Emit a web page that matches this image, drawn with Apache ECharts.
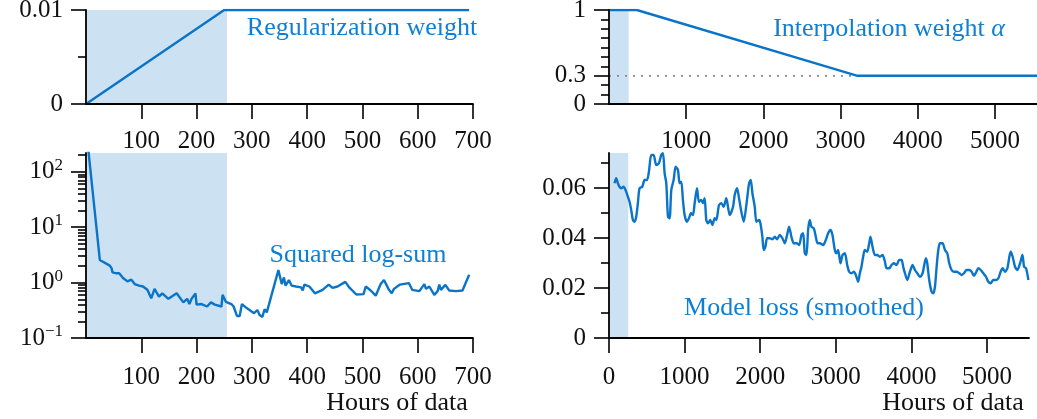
<!DOCTYPE html>
<html><head><meta charset="utf-8">
<script src="https://cdn.jsdelivr.net/npm/echarts@6/dist/echarts.min.js"></script>
<style>html,body{margin:0;padding:0;background:#fff}#c{width:1037px;height:419px}</style>
</head><body><div id="c"></div>
<script>
// ---------------- data ----------------
const warmupEnd = 255;
const regHours = [0, 250, 693];
const regWeight = [0, 0.01, 0.01];
const alphaHours = [0, 360, 3220, 5544];
const alphaWeight = [1, 1, 0.3, 0.3];
const alphaFloor = 0.3;

const logSumHours = [
  1, 25, 43, 46, 48, 50, 55, 60, 67, 75,
  82, 88, 96, 103, 111, 118, 124, 132, 138, 149,
  164, 176, 183, 187, 191, 198, 200, 209, 219, 226,
  233, 236, 245, 247, 253, 263, 267, 273, 278, 282,
  290, 304, 310, 314, 319, 323, 327, 348, 354, 358,
  361, 367, 372, 380, 389, 392, 395, 404, 414, 428,
  439, 446, 455, 469, 477, 489, 502, 506, 515, 524,
  533, 539, 548, 553, 557, 568, 584, 590, 603, 612,
  615, 621, 630, 636, 639, 642, 650, 657, 669, 681,
  693];
const logSumValues = [
  500, 2.56, 2.02, 1.84, 1.53, 1.64, 1.47, 1.47, 1.21, 1.05,
  1.13, 0.94, 0.88, 0.85, 0.74, 0.52, 0.77, 0.56, 0.64, 0.51,
  0.64, 0.44, 0.51, 0.41, 0.51, 0.64, 0.40, 0.41, 0.37, 0.44,
  0.40, 0.37, 0.37, 0.60, 0.45, 0.41, 0.37, 0.25, 0.25, 0.41,
  0.35, 0.28, 0.32, 0.26, 0.24, 0.33, 0.29, 1.68, 0.94, 1.24,
  0.88, 1.11, 0.88, 0.85, 0.82, 0.72, 0.92, 0.85, 0.64, 0.74,
  0.92, 0.80, 0.85, 1.03, 0.80, 0.61, 0.62, 0.85, 0.72, 0.58,
  0.94, 1.11, 0.74, 0.64, 0.77, 0.92, 0.98, 0.74, 0.70, 0.94,
  0.77, 0.85, 0.60, 0.70, 0.92, 0.74, 0.91, 0.72, 0.70, 0.72,
  1.38];

const lossHours = [
  73,95,117,139,161,192,219,250,272,294,
  316,338,360,382,404,440,471,502,528,559,
  590,625,660,691,714,736,758,780,802,824,
  855,881,912,934,956,978,1000,1031,1058,1084,
  1111,1133,1164,1190,1221,1243,1265,1287,1309,1340,
  1367,1398,1420,1455,1486,1517,1552,1574,1597,1641,
  1663,1694,1720,1751,1782,1817,1853,1875,1897,1928,
  1950,1985,2003,2029,2047,2069,2091,2126,2162,2193,
  2223,2259,2294,2325,2356,2382,2413,2444,2480,2515,
  2546,2568,2590,2612,2634,2656,2678,2709,2736,2758,
  2789,2833,2868,2899,2930,2956,2987,3009,3031,3062,
  3089,3120,3151,3177,3208,3239,3265,3296,3318,3340,
  3362,3384,3415,3442,3459,3486,3517,3548,3583,3618,
  3650,3672,3707,3738,3769,3804,3839,3870,3892,3915,
  3946,3981,4016,4047,4078,4113,4148,4166,4192,4210,
  4236,4267,4290,4312,4334,4356,4378,4413,4444,4475,
  4501,4532,4563,4599,4634,4665,4696,4731,4766,4797,
  4828,4855,4886,4917,4952,4987,5018,5049,5084,5120,
  5151,5181,5208,5239,5270,5296,5314,5340,5371,5402,
  5438,5469,5491,5517,5548];
const lossValues = [
  .0619,.0639,.0619,.0605,.0599,.0605,.0592,.0565,.0545,.0512,
  .0472,.0465,.0485,.0539,.0599,.0605,.0632,.0632,.0665,.0732,
  .0732,.0692,.0699,.0732,.0739,.0659,.0619,.0485,.0479,.0592,
  .0632,.0685,.0672,.0619,.0625,.0552,.0492,.0465,.0479,.0499,
  .0492,.0539,.0599,.0545,.0552,.0539,.0559,.0472,.0459,.0472,
  .0452,.0479,.0472,.0532,.0539,.0525,.0559,.0525,.0492,.0525,
  .0572,.0599,.0559,.0505,.0465,.0532,.0619,.0632,.0579,.0525,
  .0465,.0472,.0459,.0405,.0352,.0365,.0399,.0399,.0395,.0405,
  .0395,.0412,.0399,.0379,.0412,.0445,.0405,.0379,.0379,.0372,
  .0412,.0419,.0339,.0332,.0432,.0472,.0445,.0439,.0405,.0379,
  .0379,.0372,.0392,.0419,.0432,.0412,.0352,.0339,.0352,.0299,
  .0332,.0339,.0292,.0265,.0259,.0265,.0252,.0225,.0259,.0285,
  .0325,.0352,.0345,.0379,.0405,.0365,.0332,.0332,.0325,.0332,
  .0305,.0279,.0279,.0292,.0299,.0292,.0312,.0312,.0285,.0259,
  .0232,.0265,.0292,.0272,.0259,.0245,.0259,.0285,.0319,.0299,
  .0232,.0185,.0179,.0205,.0285,.0352,.0379,.0379,.0352,.0339,
  .0299,.0272,.0265,.0265,.0259,.0252,.0259,.0272,.0272,.0265,
  .0249,.0262,.0279,.0272,.0259,.0245,.0225,.0219,.0232,.0232,
  .0239,.0265,.0279,.0265,.0279,.0325,.0345,.0325,.0285,.0272,
  .0299,.0332,.0285,.0279,.0232];

const leftXTicks = [100, 200, 300, 400, 500, 600, 700];
const rightXTicksTop = [1000, 2000, 3000, 4000, 5000];
const rightXTicksBottom = [0, 1000, 2000, 3000, 4000, 5000];
const regYTicks = [0, 0.01];
const regYMinor = [0.005];
const alphaYTicks = [0, 0.3, 1];
const alphaYMinor = [0.1, 0.2, 0.4, 0.5, 0.6, 0.7, 0.8, 0.9];
const logDecades = [-1, 0, 1, 2];
const logMinorMultipliers = [2, 3, 4, 5, 6, 7, 8, 9];
const lossYTicks = [0, 0.02, 0.04, 0.06];
const lossYMinor = [0.01, 0.03, 0.05, 0.07];

const labels = {
  reg: 'Regularization weight',
  alpha: 'Interpolation weight ',
  alphaSym: 'α',
  logsum: 'Squared log-sum',
  loss: 'Model loss (smoothed)',
  xname: 'Hours of data'
};

// ---------------- styling ----------------
const FONT = 'Liberation Serif';
const BLUE = '#0a74c9';
const TEXTBLUE = '#0d7fd4';
const SHADE = '#cce2f3';
const INK = '#111';

const logMax = Math.log10(218);
const logMinorTicks = [];
logDecades.forEach(d => logMinorMultipliers.forEach(m => {
  const v = d + Math.log10(m);
  if (v < logMax) logMinorTicks.push(v);
}));

const tickStyle = {color: '#000', width: 1.6};
function xAx(grid, min, max, ticks, margin) {
  return {
    type: 'value', gridIndex: grid, min: min, max: max, z: 5,
    axisLine: {show: true, onZero: false, lineStyle: {color: '#000', width: 1.8}},
    axisTick: {show: true, inside: false, length: 15, lineStyle: tickStyle, customValues: ticks},
    axisLabel: {show: true, customValues: ticks, margin: margin, fontSize: 25, fontFamily: FONT, color: INK,
      formatter: v => String(v)},
    splitLine: {show: false}
  };
}
function yAx(grid, min, max, ticks, fmt, rich) {
  return {
    type: 'value', gridIndex: grid, min: min, max: max, z: 5, position: 'left',
    axisLine: {show: true, onZero: false, lineStyle: {color: '#000', width: 1.8}},
    axisTick: {show: true, inside: false, length: 15, lineStyle: tickStyle, customValues: ticks},
    axisLabel: {show: true, customValues: ticks, margin: 23, fontSize: 25, fontFamily: FONT, color: INK,
      formatter: fmt || (v => String(v)), rich: rich},
    splitLine: {show: false}
  };
}
function yMinor(grid, min, max, ticks) {
  return {
    type: 'value', gridIndex: grid, min: min, max: max, z: 5, position: 'left',
    axisLine: {show: false, onZero: false},
    axisTick: {show: true, inside: false, length: 8, lineStyle: tickStyle, customValues: ticks},
    axisLabel: {show: false},
    splitLine: {show: false}
  };
}
const shadeArea = {silent: true, itemStyle: {color: SHADE}, data: [[{xAxis: 0}, {xAxis: warmupEnd}]]};
function lineSeries(xi, yi, data, width, extra) {
  return Object.assign({
    type: 'line', xAxisIndex: xi, yAxisIndex: yi, data: data, showSymbol: false, symbol: 'none',
    lineStyle: {color: BLUE, width: width}, itemStyle: {color: BLUE}, z: 3, clip: true
  }, extra || {});
}

const logRich = {
  b: {fontSize: 25, fontFamily: FONT, color: INK, lineHeight: 30},
  s: {fontSize: 17, fontFamily: FONT, color: INK, verticalAlign: 'top', lineHeight: 17}
};
const logFmt = v => {
  const n = Math.round(v);
  return '{b|10}{s|' + (n < 0 ? '\u2212' + (-n) : n) + '}';
};

const option = {
  animation: false,
  backgroundColor: '#fff',
  grid: [
    {left: 86, top: 10, width: 387, height: 94, outerBoundsMode: 'none', containLabel: false},
    {left: 86, top: 153, width: 387, height: 185, outerBoundsMode: 'none', containLabel: false},
    {left: 609, top: 10, width: 428, height: 94, outerBoundsMode: 'none', containLabel: false},
    {left: 609, top: 153, width: 420, height: 185, outerBoundsMode: 'none', containLabel: false}
  ],
  xAxis: [
    xAx(0, 0, 700, leftXTicks, 25),
    xAx(1, 0, 700, leftXTicks, 27),
    xAx(2, 0, 5544, rightXTicksTop, 25),
    xAx(3, 0, 5556, rightXTicksBottom, 27)
  ],
  yAxis: [
    yAx(0, 0, 0.01, regYTicks),
    yMinor(0, 0, 0.01, regYMinor),
    yAx(1, -1, logMax, logDecades, logFmt, logRich),
    yMinor(1, -1, logMax, logMinorTicks),
    yAx(2, 0, 1, alphaYTicks),
    yMinor(2, 0, 1, alphaYMinor),
    yAx(3, 0, 0.074, lossYTicks),
    yMinor(3, 0, 0.074, lossYMinor)
  ],
  series: [
    lineSeries(0, 0, regHours.map((h, i) => [h, regWeight[i]]), 2.4, {markArea: shadeArea}),
    lineSeries(1, 2, logSumHours.map((h, i) => [h, Math.log10(logSumValues[i])]), 2.4, {markArea: shadeArea}),
    lineSeries(2, 4, [[0, alphaFloor], [alphaHours[2], alphaFloor]], 1.6,
      {lineStyle: {color: '#8a8a8a', width: 1.8, type: [2, 6], cap: 'butt'}, z: 2}),
    lineSeries(2, 4, alphaHours.map((h, i) => [h, alphaWeight[i]]), 2.4, {markArea: shadeArea}),
    lineSeries(3, 6, lossHours.map((h, i) => [h, lossValues[i]]), 2.4, {markArea: shadeArea, smooth: 0.25})
  ],
  graphic: [
    {type: 'text', x: 362, y: 28, style: {text: labels.reg, fill: TEXTBLUE, font: '26px "Liberation Serif"', align: 'center', verticalAlign: 'middle'}},
    {type: 'text', x: 889, y: 29, style: {
      text: '{n|' + labels.alpha + '}{a|' + labels.alphaSym + '}', fill: TEXTBLUE, align: 'center', verticalAlign: 'middle',
      rich: {n: {fontSize: 26, fontFamily: FONT, fill: TEXTBLUE}, a: {fontSize: 26, fontFamily: FONT, fontStyle: 'italic', fill: TEXTBLUE}}}},
    {type: 'text', x: 358, y: 255, style: {text: labels.logsum, fill: TEXTBLUE, font: '26px "Liberation Serif"', align: 'center', verticalAlign: 'middle'}},
    {type: 'text', x: 804, y: 308, style: {text: labels.loss, fill: TEXTBLUE, font: '26px "Liberation Serif"', align: 'center', verticalAlign: 'middle'}},
    {type: 'text', x: 397, y: 403, style: {text: labels.xname, fill: INK, font: '26px "Liberation Serif"', align: 'center', verticalAlign: 'middle'}},
    {type: 'text', x: 953, y: 403, style: {text: labels.xname, fill: INK, font: '26px "Liberation Serif"', align: 'center', verticalAlign: 'middle'}}
  ]
};
const chart = echarts.init(document.getElementById('c'), null, {renderer: 'canvas'});
chart.setOption(option);
</script>
</body></html>
